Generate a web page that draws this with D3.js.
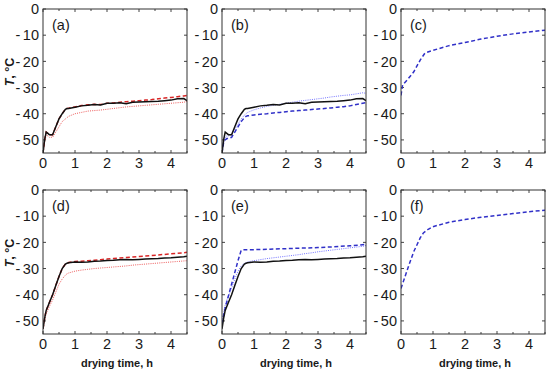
<!DOCTYPE html>
<html>
<head>
<meta charset="utf-8">
<script src="https://cdn.jsdelivr.net/npm/d3@7"></script>
<style>
  body { margin: 0; background: #fff; }
  svg { display: block; font-family: Arial, "Liberation Sans", sans-serif; }
  .tick-label { font-size: 14.5px; fill: #1a1a1a; }
  .axis-title { font-size: 11px; font-weight: bold; fill: #1a1a1a; }
</style>
</head>
<body>
<svg id="chart" width="550" height="373"></svg>
<script>
// time grid shared by the dense series (h)
const tDense = [0, 0.05, 0.1, 0.15, 0.2, 0.3, 0.4, 0.5, 0.6, 0.7, 0.75, 0.8, 1.0, 1.2, 1.4, 1.6, 1.8,
                2.0, 2.2, 2.4, 2.6, 2.8, 3.0, 3.2, 3.4, 3.6, 3.8, 4.0, 4.2, 4.4, 4.5];

// top row
const blackTop = [-55, -50, -47, -47.5, -48, -48, -45, -42, -40, -38.3, -38, -38, -37.5, -37, -36.8, -36.5, -36.7,
                  -36, -36, -35.8, -36.2, -35.6, -35.5, -35.4, -35.3, -35.2, -35, -34.8, -34.3, -34.2, -35];
const redDashA = [-55, -50, -47, -47.5, -48, -48, -45, -42, -40, -38.3, -38, -37.9, -37.4, -36.9, -36.6, -36.4, -36.5,
                  -36, -35.9, -35.6, -35.4, -35.2, -35, -34.8, -34.6, -34.3, -34, -33.8, -33.5, -33.2, -33];
const redDotA = [-55, -51, -48, -48.5, -49, -49, -47, -45, -43, -42, -41.5, -41, -40, -39.5, -39, -38.8, -38.6,
                 -38.3, -38, -37.7, -37.4, -37.2, -37, -36.8, -36.6, -36.4, -36.2, -36, -35.8, -35.6, -35.3];
const blueDotB = [-55, -51, -49, -48.5, -48.5, -48, -46, -44, -42, -40.5, -40, -39.5, -38.5, -37.8, -37.2, -36.8, -36.4,
                  -36, -35.6, -35.2, -34.9, -34.6, -34.3, -34, -33.6, -33.3, -33, -32.8, -32.4, -32, -32.2];
const blueDashB = [-55, -51, -50, -49.5, -49.5, -49, -47, -45, -43, -41.5, -41, -40.8, -40.5, -40.2, -40, -39.7, -39.5,
                   -39.2, -39, -38.8, -38.6, -38.4, -38.2, -38, -37.8, -37.5, -37.3, -37, -36.5, -36, -35.8];
const tC = [0, 0.05, 0.2, 0.4, 0.6, 0.75, 1, 1.5, 2, 2.5, 3, 3.5, 4, 4.5];
const blueDashC = [-33, -29, -27, -24, -19.5, -16.8, -15.8, -14, -12.8, -11.5, -10.4, -9.5, -8.8, -8.1];

// bottom row
const blackBottom = [-53, -49, -46, -44.5, -43, -40, -36.5, -33, -30, -28.3, -28, -27.8, -27.5, -27.6, -27.5, -27.2, -27.1,
                     -26.9, -26.8, -26.6, -26.5, -26.6, -26.5, -26.4, -26.3, -26.2, -26, -25.9, -25.7, -25.5, -25.3];
const redDashD = [-53, -49, -46, -44.5, -43, -40, -36.5, -33, -30, -28.3, -28, -27.7, -27.3, -27.2, -27, -26.8, -26.6,
                  -26.4, -26.2, -26, -25.8, -25.6, -25.4, -25.2, -25, -24.8, -24.6, -24.4, -24.2, -24, -23.8];
const redDotD = [-53, -50, -47, -46, -44.5, -42, -39, -36, -34, -32.5, -32, -31.7, -31, -30.6, -30.3, -30, -29.8,
                 -29.6, -29.4, -29.2, -29, -28.7, -28.5, -28.3, -28.1, -27.9, -27.7, -27.5, -27.3, -27.1, -27];
const blueDotE = [-50, -47, -44, -42, -40.5, -37.5, -34, -31, -29, -28, -27.8, -27.5, -27, -26.6, -26.2, -25.9, -25.6,
                  -25.3, -25, -24.7, -24.3, -24, -23.6, -23.3, -23, -22.7, -22.4, -22.1, -21.8, -21.5, -21.2];
const tE = [0, 0.1, 0.3, 0.5, 0.6, 0.7, 1, 1.5, 2, 2.5, 3, 3.5, 4, 4.5];
const blueDashE = [-51, -45, -36, -27, -23, -22.8, -22.8, -22.6, -22.4, -22.2, -22, -21.7, -21.3, -20.8];
const tF = [0, 0.1, 0.25, 0.4, 0.5, 0.6, 0.7, 0.85, 1, 1.5, 2, 2.5, 3, 3.5, 4, 4.5];
const blueDashF = [-37.6, -34, -28.6, -23.5, -20.9, -18.3, -16.4, -15, -14, -12.3, -11.3, -10.4, -9.7, -9, -8.3, -7.7];

const xTicks = [0, 1, 2, 3, 4];
const yTicks = [0, -10, -20, -30, -40, -50];
const panelLabels = ['(a)', '(b)', '(c)', '(d)', '(e)', '(f)'];

// line styles
const styles = {
  black:    { color: '#111', width: 1.5, dash: null },
  redDash:  { color: '#d92626', width: 1.5, dash: '4,2.5' },
  redDot:   { color: '#ee5a5a', width: 1, dash: '1,1.2' },
  blueDash: { color: '#3030c8', width: 1.5, dash: '4,2.5' },
  blueDot:  { color: '#7474ff', width: 1, dash: '1,1.2' }
};

const zip = (t, v) => t.map((d, i) => [d, v[i]]);

const panels = [
  [{ s: 'redDot', d: zip(tDense, redDotA) }, { s: 'redDash', d: zip(tDense, redDashA) }, { s: 'black', d: zip(tDense, blackTop) }],
  [{ s: 'blueDot', d: zip(tDense, blueDotB) }, { s: 'blueDash', d: zip(tDense, blueDashB) }, { s: 'black', d: zip(tDense, blackTop) }],
  [{ s: 'blueDash', d: zip(tC, blueDashC) }],
  [{ s: 'redDot', d: zip(tDense, redDotD) }, { s: 'redDash', d: zip(tDense, redDashD) }, { s: 'black', d: zip(tDense, blackBottom) }],
  [{ s: 'blueDot', d: zip(tDense, blueDotE) }, { s: 'blueDash', d: zip(tE, blueDashE) }, { s: 'black', d: zip(tDense, blackBottom) }],
  [{ s: 'blueDash', d: zip(tF, blueDashF) }]
];

const svg = d3.select('#chart');
const colLeft = [43, 222, 401];
const rowTop = [9, 190];
const pw = 144, ph = 144;

panels.forEach((series, i) => {
  const col = i % 3, row = Math.floor(i / 3);
  const g = svg.append('g').attr('transform', `translate(${colLeft[col]},${rowTop[row]})`);

  const x = d3.scaleLinear().domain([0, 4.5]).range([0, pw]);
  const y = d3.scaleLinear().domain([-55, 0]).range([ph, 0]);

  g.append('defs').append('clipPath').attr('id', 'clip' + i)
    .append('rect').attr('width', pw).attr('height', ph);

  // inward ticks on all four sides
  const xAll = d3.range(0, 4.51, 0.5);
  const tickLen = 3;
  xAll.forEach(v => {
    const len = Number.isInteger(v) ? tickLen : tickLen - 1;
    g.append('line').attr('x1', x(v)).attr('x2', x(v)).attr('y1', ph).attr('y2', ph - len).attr('stroke', '#444');
    g.append('line').attr('x1', x(v)).attr('x2', x(v)).attr('y1', 0).attr('y2', len).attr('stroke', '#444');
  });
  yTicks.forEach(v => {
    g.append('line').attr('x1', 0).attr('x2', tickLen).attr('y1', y(v)).attr('y2', y(v)).attr('stroke', '#444');
    g.append('line').attr('x1', pw).attr('x2', pw - tickLen).attr('y1', y(v)).attr('y2', y(v)).attr('stroke', '#444');
  });

  // tick labels
  g.selectAll('.xl').data(xTicks).enter().append('text')
    .attr('class', 'tick-label')
    .attr('x', d => x(d)).attr('y', ph + 15)
    .attr('text-anchor', 'middle').text(d => d);

  const yl = g.selectAll('.yl').data(yTicks).enter().append('text')
    .attr('class', 'tick-label')
    .attr('x', -4).attr('y', d => y(d)).attr('dy', '0.36em')
    .attr('text-anchor', 'end');
  yl.each(function(d) {
    const t = d3.select(this);
    if (d < 0) {
      t.append('tspan').text('-');
      t.append('tspan').attr('dx', 2.5).text(Math.abs(d));
    } else {
      t.text(d);
    }
  });

  // series
  const line = d3.line().x(d => x(d[0])).y(d => y(d[1]));
  const plot = g.append('g').attr('clip-path', `url(#clip${i})`);
  series.forEach(sr => {
    const st = styles[sr.s];
    plot.append('path').datum(sr.d)
      .attr('d', line)
      .attr('fill', 'none')
      .attr('stroke', st.color)
      .attr('stroke-width', st.width)
      .attr('stroke-dasharray', st.dash);
  });

  // frame
  g.append('rect').attr('width', pw).attr('height', ph)
    .attr('fill', 'none').attr('stroke', '#333').attr('stroke-width', 1);

  // panel tag
  g.append('text').attr('x', 9).attr('y', 21)
    .style('font-size', '14.5px').style('fill', '#1a1a1a')
    .text(panelLabels[i]);

  // axis titles
  if (col === 0) {
    const yt = svg.append('text').attr('class', 'axis-title')
      .attr('transform', `translate(14,${rowTop[row] + 63}) rotate(-90)`)
      .attr('text-anchor', 'middle')
      .style('font-size', '12.5px');
    yt.append('tspan').style('font-style', 'italic').text('T');
    yt.append('tspan').text(', °C');
  }
  if (row === 1) {
    svg.append('text').attr('class', 'axis-title')
      .attr('x', colLeft[col] + pw / 2 + 2).attr('y', rowTop[row] + ph + 33)
      .attr('text-anchor', 'middle')
      .text('drying time, h');
  }
});
</script>
</body>
</html>
